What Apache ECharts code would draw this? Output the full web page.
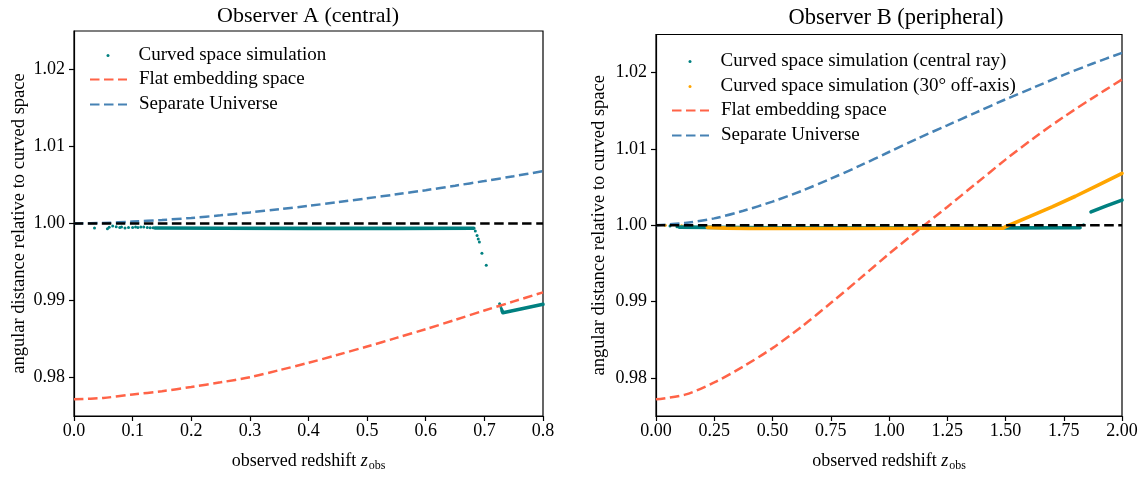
<!DOCTYPE html>
<html><head><meta charset="utf-8">
<script src="https://cdn.jsdelivr.net/npm/echarts@6/dist/echarts.min.js"></script>
<style>html,body{margin:0;padding:0;background:#fff}#c{width:1148px;height:477px}</style>
</head><body><div id="c"></div>
<script>
// ---------- Data ----------
// Panel A (central observer)
const aFlat = [[0,0.97716],[0.05,0.97735],[0.1,0.97779],[0.15,0.97822],[0.2,0.97877],[0.25,0.97937],[0.3,0.98004],[0.35,0.98095],[0.4,0.98191],[0.45,0.98295],[0.5,0.98403],[0.55,0.98514],[0.6,0.98628],[0.65,0.98748],[0.7,0.98870],[0.75,0.98988],[0.8,0.99106]];
const aSep = [[0,1.0],[0.05,1.00007],[0.1,1.00025],[0.15,1.00046],[0.2,1.00072],[0.25,1.00106],[0.3,1.00144],[0.35,1.00185],[0.4,1.00229],[0.45,1.00277],[0.5,1.00327],[0.55,1.00379],[0.6,1.00433],[0.65,1.00491],[0.7,1.00551],[0.75,1.00614],[0.8,1.00679]];
const aSimPoints = [[0.035,0.99941],[0.057,0.99932],[0.060,0.99952],[0.066,0.99966],[0.072,0.99958],[0.078,0.99949],[0.081,0.99953],[0.087,0.99942],[0.093,0.99949],[0.100,0.99948],[0.105,0.99953],[0.109,0.99949],[0.114,0.99953],[0.119,0.99953],[0.125,0.99949],[0.130,0.99946],[0.135,0.99944],
  [0.6845,0.99902],[0.6875,0.99845],[0.6895,0.99800],[0.6915,0.99760],[0.6958,0.99614],[0.7032,0.99457],[0.726,0.98957],[0.7275,0.98925],[0.729,0.98895]];
const aSimBand1 = [[0.138,0.99942],[0.25,0.99938],[0.4,0.99937],[0.55,0.99937],[0.682,0.99938]];
const aSimBand2 = [[0.7300,0.98870],[0.7316,0.98842],[0.76,0.98885],[0.8,0.98950]];
const aRef = [[0,1],[0.8,1]];

// Panel B (peripheral observer)
const bFlat = [[0,0.97718],[0.125,0.97780],[0.25,0.97940],[0.375,0.98150],[0.5,0.98390],[0.625,0.98670],[0.75,0.98980],[0.875,0.99300],[1.0,0.99625],[1.125,0.99935],[1.25,1.00240],[1.375,1.00550],[1.5,1.00860],[1.625,1.01150],[1.75,1.01420],[1.875,1.01670],[2.0,1.01910]];
const bSep = [[0,1.0],[0.125,1.0003],[0.25,1.0009],[0.375,1.0019],[0.5,1.0031],[0.625,1.0045],[0.75,1.0061],[0.875,1.0078],[1.0,1.0096],[1.125,1.0114],[1.25,1.0131],[1.375,1.0148],[1.5,1.0165],[1.625,1.0181],[1.75,1.0197],[1.875,1.0212],[2.0,1.0226]];
const bCentralPoints = [[0.06,0.99990],[0.09,0.99980],[1.835,1.00005]];
const bCentralBand1 = [[0.1,0.99975],[0.5,0.99966],[1.0,0.99965],[1.5,0.99966],[1.82,0.99968]];
const bCentralBand2 = [[1.867,1.00175],[1.93,1.0025],[2.0,1.0033]];
const bOffPoints = [[0.04,1.0000],[0.11,0.99995],[0.16,0.99982],[0.19,0.99978]];
const bOffBand = [[0.22,0.99972],[0.3,0.99962],[0.4,0.99958],[0.8,0.99958],[1.2,0.99960],[1.49,0.99962],[1.5,0.99980],[1.6,1.0011],[1.7,1.0024],[1.8,1.0038],[1.9,1.0053],[2.0,1.0068]];
const bRef = [[0,1],[2,1]];

const yTicks = [0.98,0.99,1.00,1.01,1.02];
const titles = ['Observer A (central)','Observer B (peripheral)'];
const yLabel = 'angular distance relative to curved space';

// ---------- Styling ----------
const FONT = 'Liberation Serif';
const TEAL = '#008080', ORANGE = '#FFA500', RED = '#FF6347', BLUE = '#4682B4';
const DASH = [9.5, 4.5];

function xAxis(gi, max, interval, dec) {
  return {
    type: 'value', gridIndex: gi, min: 0, max: max, interval: interval,
    axisLine: {show: true, onZero: false, lineStyle: {color: '#000', width: 1.2}},
    axisTick: {show: true, length: 5, lineStyle: {color: '#000', width: 1.2}},
    axisLabel: {margin: 6, color: '#000', fontFamily: FONT, fontSize: 18, formatter: v => v.toFixed(dec)},
    splitLine: {show: false},
    name: '{a|observed redshift }{i|z}{s|obs}', nameLocation: 'middle', nameGap: 35,
    nameTextStyle: {color: '#000', fontFamily: FONT, fontSize: 18,
      rich: {a: {fontFamily: FONT, fontSize: 18, color: '#000'},
             i: {fontFamily: FONT, fontSize: 18, fontStyle: 'italic', color: '#000'},
             s: {fontFamily: FONT, fontSize: 12, color: '#000', padding: [9, 0, 0, 1]}}}
  };
}
function yAxis(gi, gap) {
  return {
    type: 'value', gridIndex: gi, min: 0.975, max: 1.025,
    axisLine: {show: true, onZero: false, lineStyle: {color: '#000', width: 1.2}},
    axisTick: {show: true, length: 5, customValues: yTicks, lineStyle: {color: '#000', width: 1.2}},
    axisLabel: {margin: 9, color: '#000', fontFamily: FONT, fontSize: 18, customValues: yTicks, formatter: v => v.toFixed(2)},
    splitLine: {show: false},
    name: yLabel, nameLocation: 'middle', nameRotate: 90, nameGap: gap,
    nameTextStyle: {color: '#000', fontFamily: FONT, fontSize: 18.5}
  };
}
function dashLine(name, data, color, gi, width) {
  return {type: 'line', name: name, xAxisIndex: gi, yAxisIndex: gi, data: data, symbol: 'none',
    smooth: 0.3, lineStyle: {color: color, width: width || 2.5, type: DASH}, itemStyle: {color: color},
    silent: true, animation: false};
}
function band(name, data, color, gi) {
  return {type: 'line', name: name, xAxisIndex: gi, yAxisIndex: gi, data: data, symbol: 'none',
    lineStyle: {color: color, width: 3.6, cap: 'round', join: 'round'}, itemStyle: {color: color}, silent: true, animation: false};
}
function scatter(name, data, color, gi) {
  return {type: 'scatter', name: name, xAxisIndex: gi, yAxisIndex: gi, data: data, symbol: 'circle', symbolSize: 3,
    itemStyle: {color: color, opacity: 1}, silent: true, animation: false};
}
function legendRow(name, left, top, isDot) {
  return {
    data: [name], orient: 'vertical', left: left, top: top, padding: 0, selectedMode: false,
    itemWidth: 37, itemHeight: isDot ? 3 : 20, itemGap: 0,
    itemStyle: isDot ? {} : {opacity: 0},
    textStyle: {fontFamily: FONT, fontSize: 19, color: '#000', padding: [0, 0, 0, 7]}
  };
}

const A1 = 'Curved space simulation';
const B1 = 'Curved space simulation (central ray)';
const B2 = 'Curved space simulation (30° off-axis)';
const FL = 'Flat embedding space';
const SU = 'Separate Universe';

const option = {
  backgroundColor: '#fff',
  animation: false,
  title: [
    {text: titles[0], left: 303, top: 0, textAlign: 'center', textStyle: {fontFamily: FONT, fontSize: 22, fontWeight: 'normal', color: '#000'}},
    {text: titles[1], left: 891, top: 2, textAlign: 'center', textStyle: {fontFamily: FONT, fontSize: 22.5, fontWeight: 'normal', color: '#000'}}
  ],
  grid: [
    {left: 74, right: 605, top: 31, bottom: 53, show: true, borderColor: '#000', borderWidth: 1.2, containLabel: false},
    {left: 656, right: 26, top: 34.5, bottom: 53, show: true, borderColor: '#000', borderWidth: 1.2, containLabel: false}
  ],
  xAxis: [xAxis(0, 0.8, 0.1, 1), xAxis(1, 2.0, 0.25, 2)],
  yAxis: [yAxis(0, 45), yAxis(1, 47)],
  legend: [
    legendRow(A1, 106.5, 46, true),
    legendRow(FL, 89, 70, false),
    legendRow(SU, 89, 95, false),
    legendRow(B1, 688.5, 52, true),
    legendRow(B2, 688.5, 77, true),
    legendRow(FL, 671, 101, false),
    legendRow(SU, 671, 126, false)
  ],
  series: [
    scatter(A1, aSimPoints, TEAL, 0),
    band('A band 1', aSimBand1, TEAL, 0),
    band('A band 2', aSimBand2, TEAL, 0),
    dashLine(FL, aFlat, RED, 0),
    dashLine(SU, aSep, BLUE, 0),
    dashLine('ref A', aRef, '#000', 0, 2.3),

    scatter(B1, bCentralPoints, TEAL, 1),
    band('B central band 1', bCentralBand1, TEAL, 1),
    band('B central band 2', bCentralBand2, TEAL, 1),
    scatter(B2, bOffPoints, ORANGE, 1),
    band('B off band', bOffBand, ORANGE, 1),
    dashLine(FL, bFlat, RED, 1),
    dashLine(SU, bSep, BLUE, 1),
    dashLine('ref B', bRef, '#000', 1, 2.3)
  ]
};
const chart = echarts.init(document.getElementById('c'), null, {renderer: 'canvas'});
chart.setOption(option);
</script>
</body></html>
